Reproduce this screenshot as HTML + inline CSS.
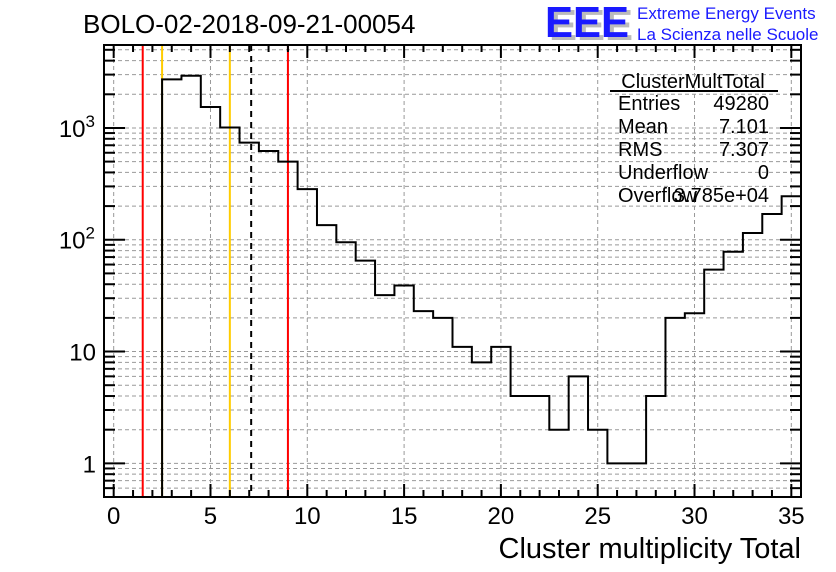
<!DOCTYPE html>
<html><head><meta charset="utf-8"><style>
html,body{margin:0;padding:0;background:#fff;}
svg{display:block;font-family:"Liberation Sans",Arial,sans-serif;}
</style></head><body>
<svg id="chart" width="836" height="572" viewBox="0 0 836 572" xmlns="http://www.w3.org/2000/svg">
<rect x="0" y="0" width="836" height="572" fill="#fff"/>
<text x="83" y="33" font-size="26">BOLO-02-2018-09-21-00054</text>
<g>
<text x="549" y="40" font-size="44" font-weight="bold" fill="#bbb" textLength="84" lengthAdjust="spacingAndGlyphs">EEE</text>
<text x="545" y="37" font-size="44" font-weight="bold" fill="#1a1aff" textLength="84" lengthAdjust="spacingAndGlyphs">EEE</text>
<text x="637" y="19" font-size="17" fill="#1a1aff">Extreme Energy Events</text>
<text x="637" y="40" font-size="17" fill="#1a1aff">La Scienza nelle Scuole</text>
</g>
<g id="grid"></g>
<g id="markers"></g>
<g id="marks"></g>
<g id="axes"></g>
<g font-size="20">
<text x="693" y="88" text-anchor="middle">ClusterMultTotal</text>
<line x1="610" y1="91" x2="778" y2="91" stroke="#000" stroke-width="2"/>
<text x="618" y="110">Entries</text><text x="769" y="110" text-anchor="end">49280</text>
<text x="618" y="133">Mean</text><text x="769" y="133" text-anchor="end">7.101</text>
<text x="618" y="156">RMS</text><text x="769" y="156" text-anchor="end">7.307</text>
<text x="618" y="179">Underflow</text><text x="769" y="179" text-anchor="end">0</text>
<text x="618" y="202">Overflow</text><text x="769" y="202" text-anchor="end">3.785e+04</text>
</g>
<text x="801" y="558" font-size="29" text-anchor="end">Cluster multiplicity Total</text>
</svg>
<script>
const binLowEdges=[-0.5,0.5,1.5,2.5,3.5,4.5,5.5,6.5,7.5,8.5,9.5,10.5,11.5,12.5,13.5,14.5,15.5,16.5,17.5,18.5,19.5,20.5,21.5,22.5,23.5,24.5,25.5,26.5,27.5,28.5,29.5,30.5,31.5,32.5,33.5,34.5];
const counts=[0,0,0,2720,2930,1540,1010,740,622,500,284,135,95,65,32,39,23,20,11,8,11,4,4,2,6,2,1,1,4,20,22,54,78,115,170,245];
const xTickLabels=[0,5,10,15,20,25,30,35];
const yTickValues=[1,10,100,1000];
const yTickLabels=["1","10","10^2","10^3"];
const markerRed=[1.5,9.0];
const markerYellow=[2.5,6.0];
const meanValue=[7.101];

const L=104,R=801,T=45,B=497;
const xMin=-0.5,xMax=35.5,yMinLog=Math.log10(0.5),yMaxLog=Math.log10(5520);
const X=v=>L+(v-xMin)/(xMax-xMin)*(R-L);
const Y=v=>B-(Math.log10(v)-yMinLog)/(yMaxLog-yMinLog)*(B-T);
const NS="http://www.w3.org/2000/svg";
function mk(tag,attrs,parent){const e=document.createElementNS(NS,tag);for(const k in attrs)e.setAttribute(k,attrs[k]);parent.appendChild(e);return e;}
const grid=document.getElementById('grid'),marks=document.getElementById('marks'),axes=document.getElementById('axes'),markers=document.getElementById('markers');

xTickLabels.forEach(v=>{const g=mk('line',{x1:X(v),x2:X(v),y1:T,y2:B,stroke:'#999','stroke-dasharray':'4,3','stroke-width':1},grid);

});
for(let d=-1;d<=3;d++)for(let m=1;m<=9;m++){const v=m*Math.pow(10,d);if(v<0.5||v>5520)continue;
const g=mk('line',{x1:L,x2:R,y1:Y(v),y2:Y(v),stroke:'#999','stroke-dasharray':'4,3','stroke-width':1},grid);

}

markerRed.forEach(v=>{const l=mk('line',{x1:X(v),x2:X(v),y1:T,y2:B,stroke:'#ff0000','stroke-width':2},markers);

});
markerYellow.forEach(v=>{const l=mk('line',{x1:X(v),x2:X(v),y1:T,y2:B,stroke:'#ffcc00','stroke-width':2},markers);

});
meanValue.forEach(v=>{const l=mk('line',{x1:X(v),x2:X(v),y1:T,y2:B,stroke:'#000','stroke-width':2,'stroke-dasharray':'6,5'},markers);

});

let d='';let started=false;
for(let i=0;i<counts.length;i++){
  const c=counts[i];if(c<=0){continue;}
  const x0=X(binLowEdges[i]),x1=X(binLowEdges[i]+1),y=Y(c);
  if(!started){d+=`M${x0},${B} L${x0},${y} `;started=true;}else{d+=`L${x0},${y} `;}
  d+=`L${x1},${y} `;
}
const h=mk('path',{d:d,fill:'none',stroke:'#000','stroke-width':2},marks);



const fr=mk('rect',{x:L,y:T,width:R-L,height:B-T,fill:'none',stroke:'#000','stroke-width':2},axes);


for(let v=0;v<=35;v++){const major=v%5===0;const len=major?13:7;const x=X(v);
mk('line',{x1:x,x2:x,y1:B,y2:B-len,stroke:'#000','stroke-width':2},axes);
mk('line',{x1:x,x2:x,y1:T,y2:T+len,stroke:'#000','stroke-width':2},axes);}
xTickLabels.forEach(v=>{const t=mk('text',{x:X(v),y:524,'font-size':24,'text-anchor':'middle'},axes);t.textContent=String(v);

});
for(let dd=-1;dd<=3;dd++)for(let m=1;m<=9;m++){const v=m*Math.pow(10,dd);if(v<0.5||v>5520)continue;const len=m===1?21:11;const y=Y(v);
mk('line',{x1:L,x2:L+len,y1:y,y2:y,stroke:'#000','stroke-width':2},axes);
mk('line',{x1:R,x2:R-len,y1:y,y2:y,stroke:'#000','stroke-width':2},axes);}
yTickValues.forEach((v,i)=>{const lab=yTickLabels[i];const y=Y(v)+9;let t;
if(lab.indexOf('^')>0){const [b,e]=lab.split('^');t=mk('text',{x:95,y:y,'font-size':24,'text-anchor':'end'},axes);
const s1=document.createElementNS(NS,'tspan');s1.textContent=b;t.appendChild(s1);
const s2=document.createElementNS(NS,'tspan');s2.setAttribute('dy','-10');s2.setAttribute('font-size','17');s2.textContent=e;t.appendChild(s2);}
else{t=mk('text',{x:96,y:y,'font-size':24,'text-anchor':'end'},axes);t.textContent=lab;}

});
</script>
</body></html>
